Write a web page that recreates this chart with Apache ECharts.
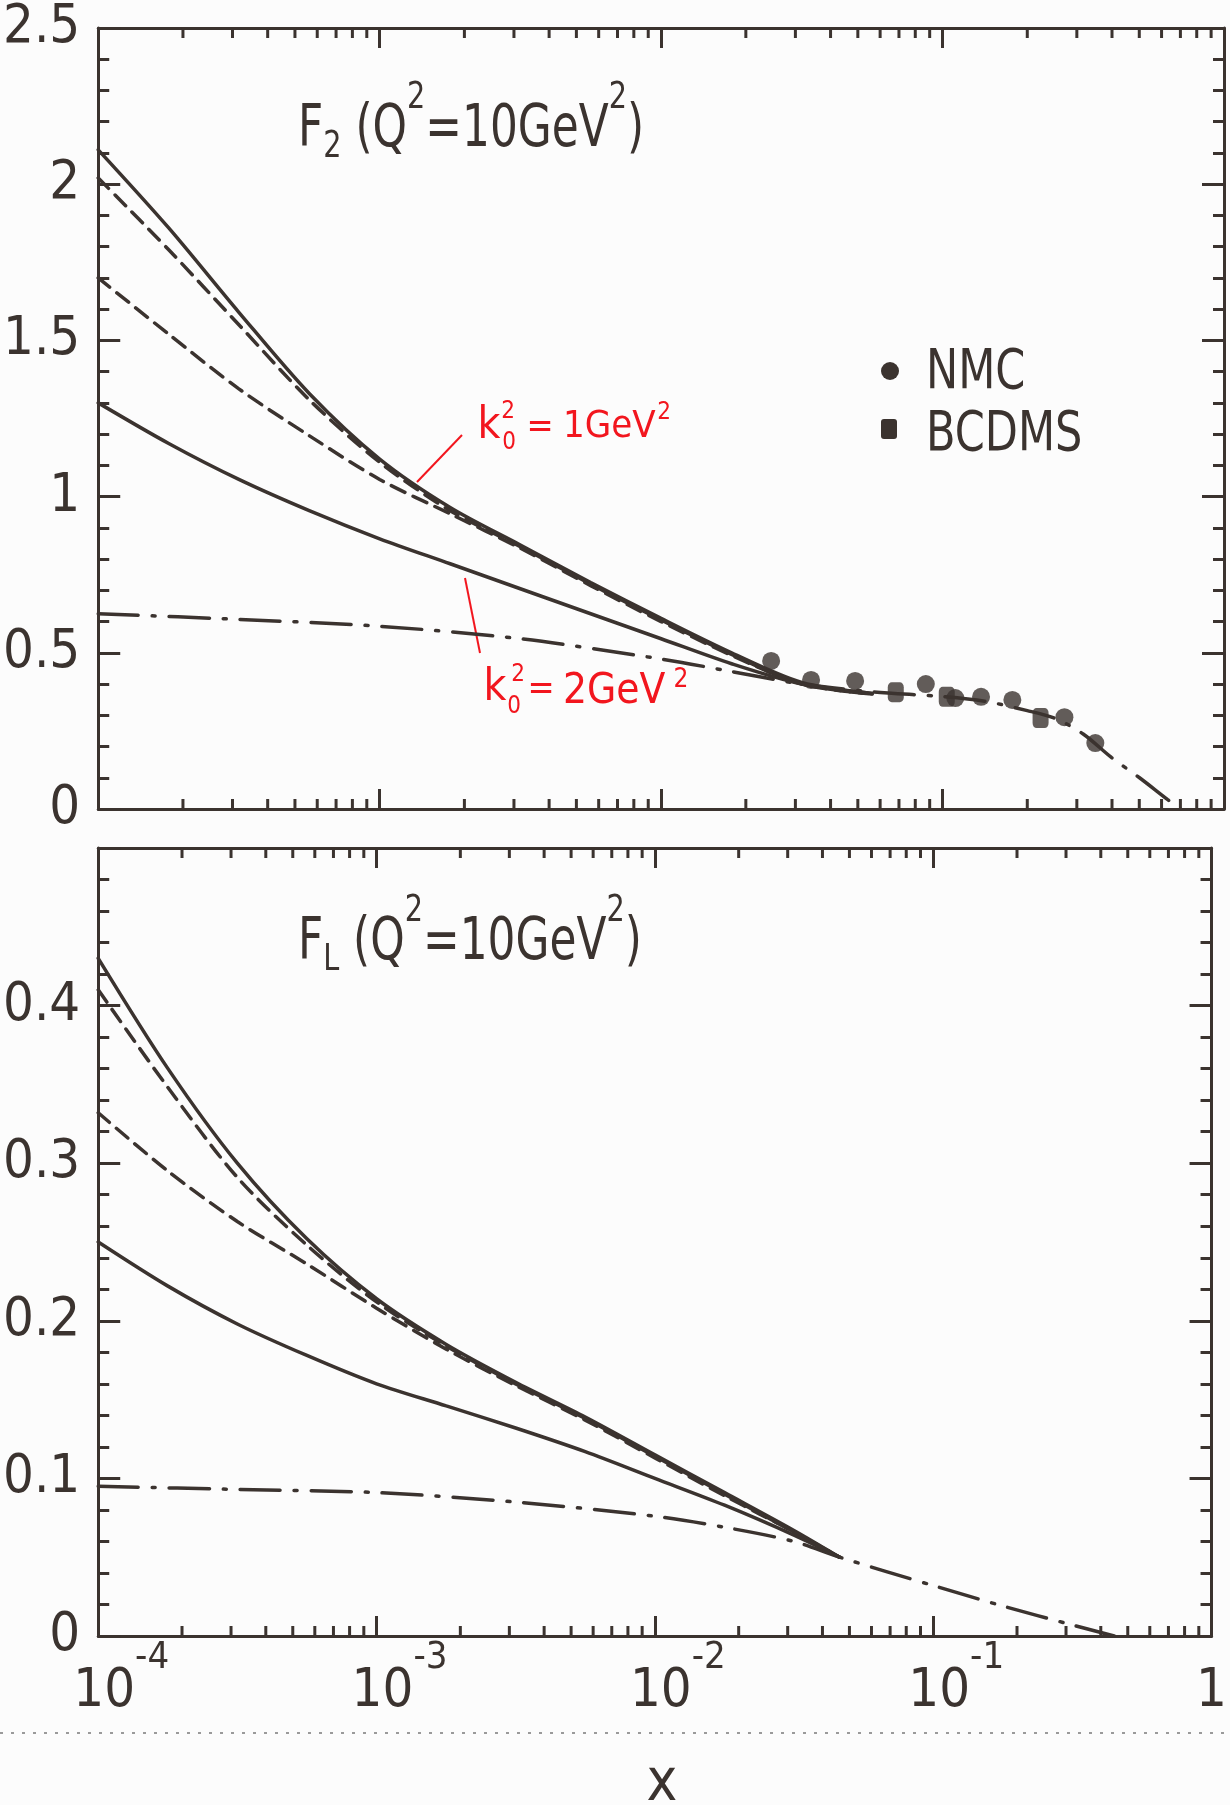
<!DOCTYPE html>
<html>
<head>
<meta charset="utf-8">
<script src="https://cdn.jsdelivr.net/npm/echarts@6/dist/echarts.min.js"></script>
<style>
  html, body { margin: 0; padding: 0; background: #fcfcfc; }
  #chart { width: 1230px; height: 1805px; }
</style>
</head>
<body>
<div id="chart"></div>
<script>
// ---- data ----
// F2 panel: curves sampled at quarter decades
var xCurveF2 = [0.0001, 0.000178, 0.000316, 0.000562, 0.001, 0.00178, 0.00316, 0.00562, 0.01, 0.0178, 0.0316, 0.0562];
var f2Solid1 = [2.11, 1.86, 1.59, 1.33, 1.12, 0.965, 0.845, 0.725, 0.61, 0.50, 0.405, 0.37];
var f2Dash1  = [2.02, 1.79, 1.55, 1.31, 1.11, 0.955, 0.84, 0.72, 0.605, 0.495, 0.40, 0.368];
var f2Dash2  = [1.70, 1.52, 1.345, 1.195, 1.055, 0.945, 0.835, 0.715, 0.60, 0.492, 0.40, 0.368];
var f2Solid2 = [1.30, 1.17, 1.055, 0.955, 0.865, 0.785, 0.705, 0.625, 0.545, 0.465, 0.40, 0.37];
var xDashDotF2 = [0.0001, 0.000316, 0.001, 0.00316, 0.01, 0.0178, 0.0316, 0.0562, 0.1, 0.141, 0.2, 0.251, 0.316, 0.398, 0.501, 0.631, 0.70];
var f2DashDot  = [0.625, 0.607, 0.585, 0.545, 0.48, 0.44, 0.40, 0.375, 0.36, 0.345, 0.315, 0.29, 0.24, 0.165, 0.10, 0.03, 0];

// measurements
var nmcX = [0.0246, 0.0341, 0.0489, 0.0872, 0.111, 0.137, 0.177, 0.271, 0.349];
var nmcY = [0.474, 0.413, 0.41, 0.40, 0.355, 0.359, 0.349, 0.294, 0.211];
var bcdmsX = [0.0682, 0.1035, 0.223];
var bcdmsY = [0.374, 0.359, 0.291];

// FL panel
var xCurveFL = [0.0001, 0.000178, 0.000316, 0.000562, 0.001, 0.00178, 0.00316, 0.00562, 0.01, 0.0178, 0.0316, 0.0461];
var flSolid1 = [0.43, 0.36, 0.300, 0.252, 0.214, 0.185, 0.161, 0.139, 0.115, 0.091, 0.067, 0.050];
var flDash1  = [0.41, 0.348, 0.291, 0.248, 0.212, 0.184, 0.160, 0.138, 0.114, 0.090, 0.066, 0.050];
var flDash2  = [0.332, 0.295, 0.263, 0.236, 0.208, 0.182, 0.159, 0.137, 0.113, 0.089, 0.066, 0.050];
var flSolid2 = [0.25, 0.222, 0.198, 0.178, 0.160, 0.146, 0.132, 0.117, 0.100, 0.083, 0.064, 0.050];
var xDashDotFL = [0.0001, 0.000316, 0.001, 0.00316, 0.01, 0.0178, 0.0316, 0.0461, 0.1, 0.178, 0.316, 0.447];
var flDashDot  = [0.095, 0.093, 0.091, 0.085, 0.076, 0.069, 0.060, 0.050, 0.032, 0.019, 0.007, 0];

// minor ticks of the log x axis (2..9 in every decade)
var minorXTicks = [0.0002, 0.0003, 0.0004, 0.0005, 0.0006, 0.0007, 0.0008, 0.0009,
                   0.002, 0.003, 0.004, 0.005, 0.006, 0.007, 0.008, 0.009,
                   0.02, 0.03, 0.04, 0.05, 0.06, 0.07, 0.08, 0.09,
                   0.2, 0.3, 0.4, 0.5, 0.6, 0.7, 0.8, 0.9];

var ink = '#3b332f';
var red = '#f2161e';
var font = 'DejaVu Sans Condensed';
var dashed = [15, 9];
var dashDot = [40, 14, 3, 14];

function pairs(xs, ys) {
  var out = [];
  for (var i = 0; i < xs.length; i++) out.push([xs[i], ys[i]]);
  return out;
}

function curve(xs, ys, dash, xi, yi) {
  return {
    type: 'line', xAxisIndex: xi, yAxisIndex: yi,
    data: pairs(xs, ys), symbol: 'none', smooth: 0.3, silent: true,
    lineStyle: { color: ink, width: 3.5, type: dash, cap: 'round' }
  };
}

function minorTicks(xi, yi, ymin, ymax) {
  return {
    type: 'custom', xAxisIndex: xi, yAxisIndex: yi, silent: true, clip: false,
    data: minorXTicks.map(function (v) { return [v, ymin]; }),
    renderItem: function (params, api) {
      var b = api.coord([api.value(0), ymin]);
      var t = api.coord([api.value(0), ymax]);
      return {
        type: 'group',
        children: [
          { type: 'line', shape: { x1: b[0], y1: b[1], x2: b[0], y2: b[1] - 10 }, style: { stroke: ink, lineWidth: 3 } },
          { type: 'line', shape: { x1: t[0], y1: t[1], x2: t[0], y2: t[1] + 10 }, style: { stroke: ink, lineWidth: 3 } }
        ]
      };
    }
  };
}

function xAxis(gi, pos, labels) {
  return {
    type: 'log', logBase: 10, min: 0.0001, max: 1, gridIndex: gi, position: pos,
    axisLine: { show: true, onZero: false, lineStyle: { color: ink, width: 3 } },
    axisTick: { show: true, inside: true, length: 20, lineStyle: { color: ink, width: 3 } },
    splitLine: { show: false },
    axisLabel: {
      show: labels, margin: 3, showMinLabel: true, showMaxLabel: true,
      formatter: function (v) {
        var e = Math.round(Math.log(v) / Math.LN10);
        if (e === 0) return '{b|1}';
        return '{sp|}{b|10}{e|' + e + '}';
      },
      rich: {
        b: { fontSize: 54, fontFamily: font, color: ink, lineHeight: 80, verticalAlign: 'bottom' },
        e: { fontSize: 38, fontFamily: font, color: ink, verticalAlign: 'top' },
        sp: { width: 46, verticalAlign: 'top' }
      }
    }
  };
}

function yAxis(gi, pos, max, interval, labels, fmt) {
  return {
    type: 'value', min: 0, max: max, interval: interval, gridIndex: gi, position: pos,
    axisLine: { show: true, onZero: false, lineStyle: { color: ink, width: 3 } },
    axisTick: { show: true, inside: true, length: 22, lineStyle: { color: ink, width: 3 } },
    minorTick: { show: true, splitNumber: 5, length: 11, lineStyle: { color: ink, width: 3 } },
    splitLine: { show: false },
    axisLabel: { show: labels, margin: 18, fontSize: 54, fontFamily: font, color: ink, formatter: fmt }
  };
}

var titleRich = {
  m: { fontSize: 58, fontFamily: font, fill: ink, lineHeight: 120, verticalAlign: 'middle' },
  sup: { fontSize: 38, fontFamily: font, fill: ink, verticalAlign: 'top', padding: [8, 0, 0, 0] },
  sub: { fontSize: 38, fontFamily: font, fill: ink, verticalAlign: 'bottom', padding: [0, 0, 25, 0] }
};

function txt(s, x, y, size, color, align, sx) {
  return {
    type: 'text', x: x, y: y, scaleX: sx || 1, silent: true,
    style: { text: s, fontSize: size, fontFamily: font, fill: color, align: align || 'center', verticalAlign: 'middle' }
  };
}

var myChart = echarts.init(document.getElementById('chart'));

var option = {
  backgroundColor: '#fcfcfc',
  animation: false,
  grid: [
    { left: 95, top: 28, width: 1129, height: 781 },
    { left: 95, top: 848, width: 1129, height: 788 }
  ],
  xAxis: [
    xAxis(0, 'bottom', false),
    xAxis(0, 'top', false),
    xAxis(1, 'bottom', true),
    xAxis(1, 'top', false)
  ],
  yAxis: [
    yAxis(0, 'left', 2.5, 0.5, true),
    yAxis(0, 'right', 2.5, 0.5, false),
    yAxis(1, 'left', 0.5, 0.1, true, function (v) { return v === 0.5 ? '' : String(Math.round(v * 10) / 10); }),
    yAxis(1, 'right', 0.5, 0.1, false)
  ],
  series: [
    curve(xCurveF2, f2Solid1, 'solid', 0, 0),
    curve(xCurveF2, f2Dash1, dashed, 0, 0),
    curve(xCurveF2, f2Dash2, dashed, 0, 0),
    curve(xCurveF2, f2Solid2, 'solid', 0, 0),
    curve(xDashDotF2, f2DashDot, dashDot, 0, 0),
    {
      name: 'NMC', type: 'scatter', xAxisIndex: 0, yAxisIndex: 0,
      data: pairs(nmcX, nmcY), symbol: 'circle', symbolSize: 18, silent: true,
      itemStyle: { color: ink }
    },
    {
      name: 'BCDMS', type: 'scatter', xAxisIndex: 0, yAxisIndex: 0,
      data: pairs(bcdmsX, bcdmsY), symbol: 'roundRect', symbolSize: [16, 20], silent: true,
      itemStyle: { color: ink }
    },
    minorTicks(0, 0, 0, 2.5),

    curve(xCurveFL, flSolid1, 'solid', 2, 2),
    curve(xCurveFL, flDash1, dashed, 2, 2),
    curve(xCurveFL, flDash2, dashed, 2, 2),
    curve(xCurveFL, flSolid2, 'solid', 2, 2),
    curve(xDashDotFL, flDashDot, dashDot, 2, 2),
    minorTicks(2, 2, 0, 0.5)
  ],
  graphic: [
    {
      type: 'text', x: 298, y: 71, scaleX: 0.84, silent: true,
      style: { text: '{m|F}{sub|2}{m| (Q}{sup|2}{m|=10GeV}{sup|2}{m|)}', rich: titleRich, align: 'left', verticalAlign: 'top' }
    },
    {
      type: 'text', x: 298, y: 884, scaleX: 0.84, silent: true,
      style: { text: '{m|F}{sub|L}{m| (Q}{sup|2}{m|=10GeV}{sup|2}{m|)}', rich: titleRich, align: 'left', verticalAlign: 'top' }
    },
    // legend
    { type: 'circle', shape: { cx: 890, cy: 371, r: 9 }, style: { fill: ink }, silent: true },
    { type: 'rect', shape: { x: 881, y: 419, width: 16, height: 20, r: 3 }, style: { fill: ink }, silent: true },
    txt('NMC', 926, 374, 55, ink, 'left', 0.87),
    txt('BCDMS', 926, 436, 55, ink, 'left', 0.87),
    // red annotations
    { type: 'line', shape: { x1: 417, y1: 482, x2: 462, y2: 435 }, style: { stroke: red, lineWidth: 2 }, silent: true },
    txt('k', 489, 427, 44, red),
    txt('2', 508, 412, 24, red),
    txt('0', 509, 443, 24, red),
    txt('=', 540, 428, 36, red),
    txt('1GeV', 563, 427, 38, red, 'left'),
    txt('2', 664, 413, 24, red),
    { type: 'line', shape: { x1: 465, y1: 578, x2: 480, y2: 653 }, style: { stroke: red, lineWidth: 2 }, silent: true },
    txt('k', 495, 689, 44, red),
    txt('2', 518, 675, 24, red),
    txt('0', 514, 707, 24, red),
    txt('=', 541, 690, 36, red),
    txt('2GeV', 563, 692, 42, red, 'left'),
    txt('2', 681, 680, 26, red),
    // axis title
    txt('x', 662, 1785, 58, ink),
    // scanner streak
    { type: 'line', shape: { x1: 0, y1: 1733, x2: 1230, y2: 1733 }, style: { stroke: '#9a9a9a', lineWidth: 2, lineDash: [3, 8] }, silent: true }
  ]
};

myChart.setOption(option);
</script>
</body>
</html>
